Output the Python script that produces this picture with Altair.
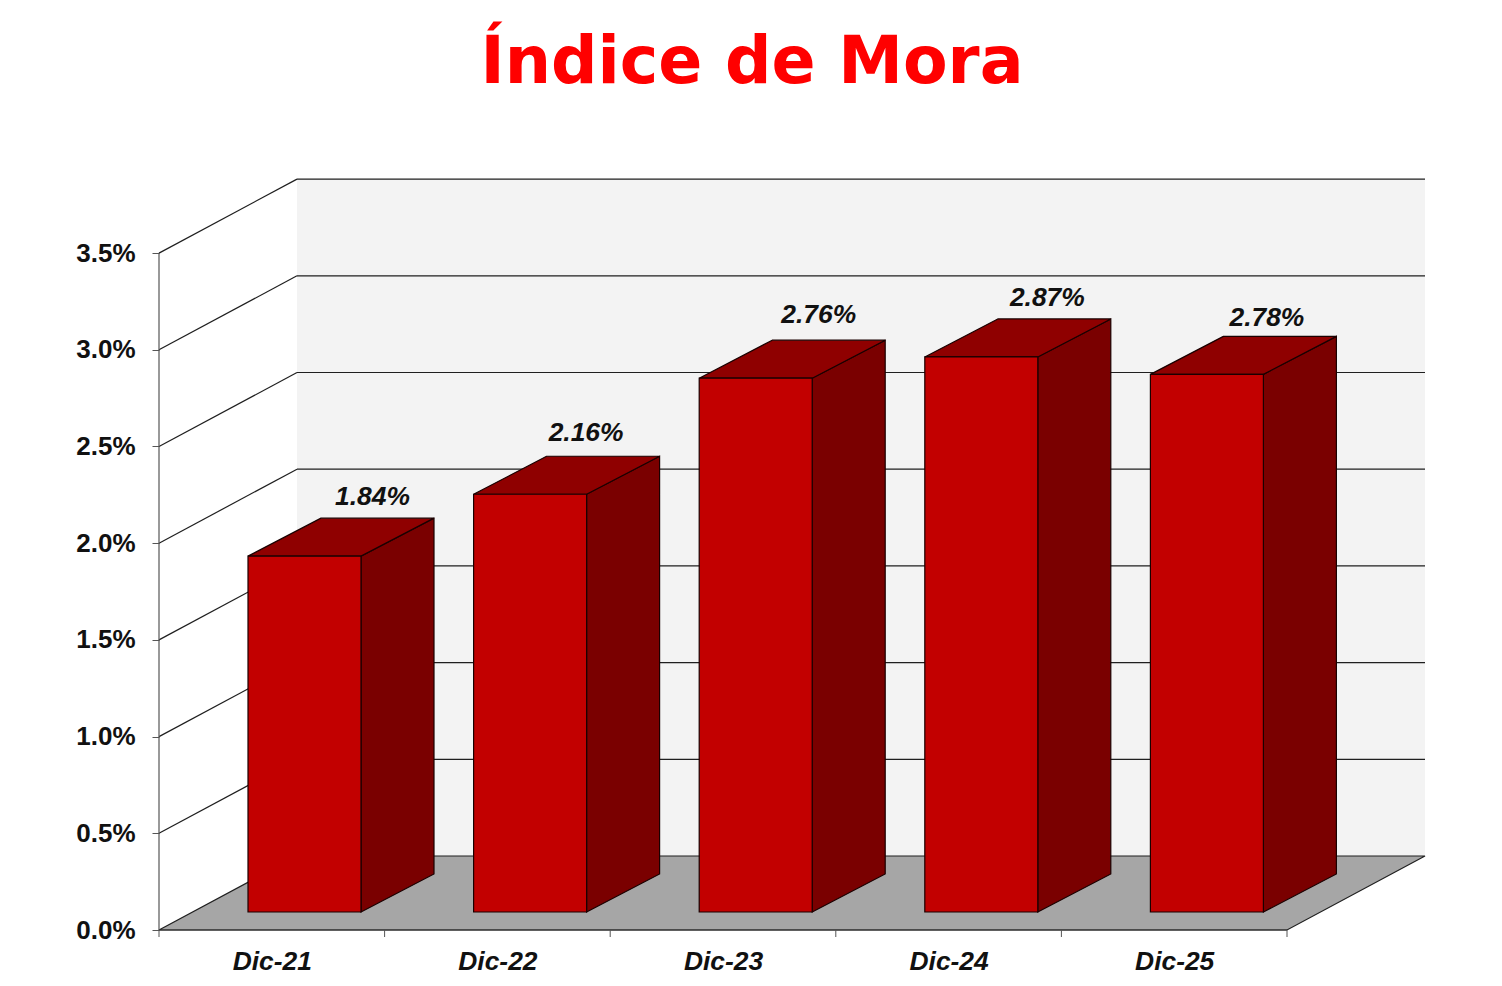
import altair as alt
import pandas as pd

categories = ["Dic-21", "Dic-22", "Dic-23", "Dic-24", "Dic-25"]
values = [1.84, 2.16, 2.76, 2.87, 2.78]
y_ticks = [0.0, 0.5, 1.0, 1.5, 2.0, 2.5, 3.0, 3.5]

# Scale geometry (data units: one category = 1 on x, one percent = 1 on y)
PX_X, PX_Y = 225.6, 193.4
WALL_DX, WALL_DY = 138 / PX_X, 74 / PX_Y
BAR_LEFT, BAR_W = 89 / PX_X, 113 / PX_X
BAR_BASE = 18 / PX_Y
BAR_DX, BAR_DY = 73 / PX_X, 38 / PX_Y
W, H = 1266, 750
NCAT = len(categories)

xs = alt.Scale(domain=[0, W / PX_X], nice=False, zero=False)
ys = alt.Scale(domain=[0, H / PX_Y], nice=False, zero=False)
label_expr = "{" + ",".join(f"'{i + 0.5}':'{c}'" for i, c in enumerate(categories)) + "}[toString(datum.value)]"
x_axis = alt.Axis(
    values=[i + 0.5 for i in range(NCAT)], labelExpr=label_expr, domain=False, ticks=False, grid=False,
    labelFont="Liberation Sans", labelFontSize=26.4, labelFontWeight="bold", labelFontStyle="italic",
    labelColor="#111111", labelPadding=18, labelFlush=False, labelOverlap=False)
y_axis = alt.Axis(
    values=y_ticks, labelExpr="format(datum.value,'.1f')+'%'", domain=False, grid=False,
    tickColor="#555555", tickSize=7, tickWidth=1,
    labelFont="Liberation Sans", labelFontSize=26, labelFontWeight="bold",
    labelColor="#111111", labelPadding=17, labelOverlap=False)
X = alt.X("x:Q", scale=xs, axis=x_axis, title=None)
Y = alt.Y("y:Q", scale=ys, axis=y_axis, title=None, stack=None)
EDGE = "#1a0000"
LINE = "#1f1f1f"
LW = 1.2

# Back wall
wall = pd.DataFrame([dict(x=WALL_DX, x2=NCAT + WALL_DX, y=WALL_DY, y2=y_ticks[-1] + WALL_DY)])
wall_layer = alt.Chart(wall).mark_rect(color="#F3F3F3").encode(x=X, x2="x2:Q", y=Y, y2="y2:Q")

# Floor
floor = pd.DataFrame([
    dict(y=0, x=0, x2=NCAT),
    dict(y=WALL_DY, x=WALL_DX, x2=NCAT + WALL_DX),
])
floor_layer = alt.Chart(floor).mark_area(orient="horizontal", color="#A6A6A6", stroke=LINE, strokeWidth=LW).encode(
    x=X, x2="x2:Q", y=Y)

# Back gridlines and side wall diagonals
grid = pd.DataFrame([dict(x=WALL_DX, x2=NCAT + WALL_DX, y=v + WALL_DY) for v in y_ticks[1:]])
grid_layer = alt.Chart(grid).mark_rule(color=LINE, strokeWidth=LW).encode(x=X, x2="x2:Q", y=Y)

diag = pd.DataFrame(
    [dict(v=v, x=0, y=v) for v in y_ticks[1:]] + [dict(v=v, x=WALL_DX, y=v + WALL_DY) for v in y_ticks[1:]]
)
diag_layer = alt.Chart(diag).mark_line(color=LINE, strokeWidth=LW).encode(x=X, y=Y, detail="v:Q")

# Axis lines and x ticks
yline = alt.Chart(pd.DataFrame([dict(x=0, y=0, y2=y_ticks[-1])])).mark_rule(color="#555555", strokeWidth=1.2).encode(
    x=X, y=Y, y2="y2:Q")
xline = alt.Chart(pd.DataFrame([dict(x=0, x2=NCAT, y=0)])).mark_rule(color="#333333", strokeWidth=1.2).encode(
    x=X, x2="x2:Q", y=Y)
xticks = alt.Chart(pd.DataFrame([dict(x=i, y=0, y2=-7 / PX_Y) for i in range(NCAT + 1)])).mark_rule(
    color="#555555", strokeWidth=1).encode(x=X, y=Y, y2="y2:Q")

# Bars: side face, top face, front face
side_rows, top_rows, front_rows = [], [], []
for i, (c, v) in enumerate(zip(categories, values)):
    left = i + BAR_LEFT
    right = left + BAR_W
    top = BAR_BASE + v
    side_rows += [dict(c=c, x=right, y=BAR_BASE, y2=top),
                  dict(c=c, x=right + BAR_DX, y=BAR_BASE + BAR_DY, y2=top + BAR_DY)]
    top_rows += [dict(c=c, y=top, x=left, x2=right),
                 dict(c=c, y=top + BAR_DY, x=left + BAR_DX, x2=right + BAR_DX)]
    front_rows.append(dict(c=c, x=left, x2=right, y=BAR_BASE, y2=top))

side_layer = alt.Chart(pd.DataFrame(side_rows)).mark_area(
    orient="vertical", color="#7A0000", stroke=EDGE, strokeWidth=1.2).encode(x=X, y=Y, y2="y2:Q", detail="c:N")
top_layer = alt.Chart(pd.DataFrame(top_rows)).mark_area(
    orient="horizontal", color="#8F0000", stroke=EDGE, strokeWidth=1.2).encode(x=X, x2="x2:Q", y=Y, detail="c:N")
front_layer = alt.Chart(pd.DataFrame(front_rows)).mark_bar(
    color="#C20000", stroke=EDGE, strokeWidth=1.2).encode(x=X, x2="x2:Q", y=Y, y2="y2:Q")

# Value labels, each nudged as in the original
nudges = [(-5, -21), (-17, -23), (-10, -25), (-7, -21), (-13, -18)]
label_layers = []
for i, (c, v) in enumerate(zip(categories, values)):
    row = dict(x=i + BAR_LEFT + BAR_W / 2 + BAR_DX, y=BAR_BASE + v + BAR_DY, t=f"{v:.2f}%")
    label_layers.append(
        alt.Chart(pd.DataFrame([row])).mark_text(
            font="Liberation Sans", fontSize=26.4, fontWeight="bold", fontStyle="italic", color="#111111",
            align="center", baseline="middle", dx=nudges[i][0], dy=nudges[i][1],
        ).encode(x=X, y=Y, text="t:N")
    )

chart = alt.layer(
    wall_layer, floor_layer, grid_layer, diag_layer, yline, xline, xticks,
    side_layer, top_layer, front_layer, *label_layers,
).properties(
    width=W, height=H,
    autosize="none",
    padding={"left": 151, "top": 172, "right": 69, "bottom": 48},
    background="white",
    title=alt.TitleParams(
        "Índice de Mora", font="DejaVu Sans", fontSize=65, fontWeight="bold", color="#FF0000",
        anchor="middle", frame="group", baseline="alphabetic", offset=29, dx=-40,
    ),
).configure_view(stroke=None)

chart.save("out.html", embed_options={"renderer": "svg", "actions": False})
